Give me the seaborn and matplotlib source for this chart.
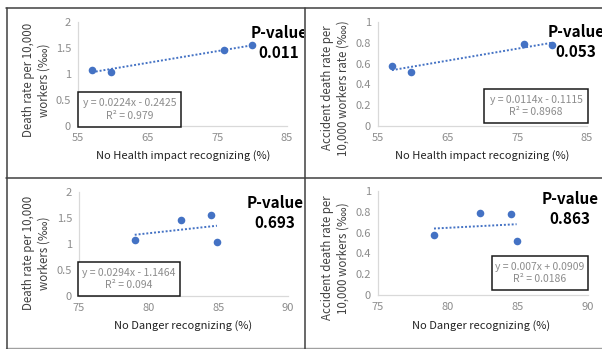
import matplotlib
matplotlib.use("Agg")
import matplotlib.pyplot as plt
import seaborn as sns
import numpy as np
import pandas as pd
from matplotlib.patches import Rectangle
from matplotlib.transforms import Bbox, TransformedBbox

sns.set_theme(style="white")
plt.rcParams['font.family'] = ['Noto Sans CJK KR', 'DejaVu Sans']

# ---- data ----
health_pct = [57.0, 59.7, 75.9, 80.0]
danger_pct = [79.0, 84.9, 82.3, 84.5]
death_rate = [1.077, 1.046, 1.47, 1.55]
accident_rate = [0.577, 0.516, 0.788, 0.779]

health_ticks = [55, 65, 75, 85]
danger_ticks = [75, 80, 85, 90]
death_ticks = [0, 0.5, 1, 1.5, 2]
death_ticklabels = ["0", "0.5", "1", "1.5", "2"]
acc_ticks = [0, 0.2, 0.4, 0.6, 0.8, 1]
acc_ticklabels = ["0", "0.2", "0.4", "0.6", "0.8", "1"]

equations = ["y = 0.0224x - 0.2425\nR² = 0.979",
             "y = 0.0114x - 0.1115\nR² = 0.8968",
             "y = 0.0294x - 1.1464\nR² = 0.094",
             "y = 0.007x + 0.0909\nR² = 0.0186"]
pvalues = ["0.011", "0.053", "0.693", "0.863"]
xlabels = ["No Health impact recognizing (%)", "No Health impact recognizing (%)",
           "No Danger recognizing (%)", "No Danger recognizing (%)"]
ylabels = ["Death rate per 10,000\nworkers (‱)",
           "Accident death rate per\n10,000 workers rate (‱)",
           "Death rate per 10,000\nworkers (‱)",
           "Accident death rate per\n10,000 workers (‱)"]

W, H = 602, 349
fig = plt.figure(figsize=(W / 100, H / 100), dpi=100)

def fx(x): return x / W
def fy(y): return 1 - y / H

BLUE = "#4472C4"
GRAY_TXT = "#8c8c8c"
DARK = "#404040"

# axes pixel rects: left, right, top, bottom
rects = [(78, 287, 22, 126), (378, 587, 22, 126),
         (79, 288, 192, 296), (378, 588, 191, 295)]
xs = [health_pct, health_pct, danger_pct, danger_pct]
ys = [death_rate, accident_rate, death_rate, accident_rate]
xt = [health_ticks, health_ticks, danger_ticks, danger_ticks]
yt = [(death_ticks, death_ticklabels), (acc_ticks, acc_ticklabels),
      (death_ticks, death_ticklabels), (acc_ticks, acc_ticklabels)]
eq_boxes = [(78, 181, 92, 127), (484, 588, 89, 123), (78, 180, 262, 296), (492, 588, 256, 290)]
ylab_pos = [(36, 80), (335, 88), (36, 253), (335, 258)]
xlab_pos = [(183, 156), (482, 156), (183, 326), (481, 326)]
pv_pos = [(279, 43), (576, 42), (275, 213), (570, 209)]
panel_clip = [(6, 304, 8, 178), (304, 602, 8, 178), (6, 304, 178, 349), (304, 602, 178, 349)]

for i in range(4):
    l, r, t, b = rects[i]
    ax = fig.add_axes([fx(l), fy(b), fx(r) - fx(l), fy(t) - fy(b)])
    df = pd.DataFrame({"x": xs[i], "y": ys[i]})
    sns.regplot(data=df, x="x", y="y", ax=ax, ci=None, scatter=False, truncate=True,
                line_kws=dict(color=BLUE, ls=(0, (1, 1)), lw=1.4))
    sns.scatterplot(data=df, x="x", y="y", ax=ax, color=BLUE, s=30, edgecolor=BLUE,
                    linewidth=0, zorder=3, clip_on=False)
    ax.set_xlim(xt[i][0], xt[i][-1])
    ax.set_ylim(yt[i][0][0], yt[i][0][-1])
    ax.set_xticks(xt[i])
    ax.set_xticklabels([str(v) for v in xt[i]])
    ax.set_yticks(yt[i][0])
    ax.set_yticklabels(yt[i][1])
    ax.tick_params(axis='both', length=0, labelsize=8, labelcolor=GRAY_TXT, pad=5)
    ax.set_xlabel("")
    ax.set_ylabel("")
    for s in ["top", "right"]:
        ax.spines[s].set_visible(False)
    for s in ["left", "bottom"]:
        ax.spines[s].set_color("#d9d9d9")
        ax.spines[s].set_linewidth(0.9)
    ax.set_facecolor("none")

    # equation box
    bl, br, bt, bb = eq_boxes[i]
    fig.patches.append(Rectangle((fx(bl), fy(bb)), fx(br) - fx(bl), fy(bt) - fy(bb),
                                 transform=fig.transFigure, fill=True, facecolor="white",
                                 edgecolor="#1a1a1a", lw=1.1, zorder=5))
    fig.text(fx((bl + br) / 2), fy((bt + bb) / 2), equations[i], ha="center", va="center",
             fontsize=7.5, color=GRAY_TXT, linespacing=1.35, zorder=6)

    # labels
    fig.text(fx(ylab_pos[i][0]), fy(ylab_pos[i][1]), ylabels[i], rotation=90,
             ha="center", va="center", fontsize=8.3, color=DARK, linespacing=1.25,
             multialignment="center")
    fig.text(fx(xlab_pos[i][0]), fy(xlab_pos[i][1]), xlabels[i], ha="center", va="center",
             fontsize=8.0, color="#222222")

    # P-value text clipped to panel
    cl, cr, ct, cb = panel_clip[i]
    clipbox = TransformedBbox(Bbox([[fx(cl), fy(cb)], [fx(cr), fy(ct)]]), fig.transFigure)
    tx = fig.text(fx(pv_pos[i][0]), fy(pv_pos[i][1]), "P-value\n" + pvalues[i],
                  ha="center", va="center", fontsize=11, fontweight="bold",
                  color="black", linespacing=1.3)
    tx.set_clip_on(True)
    tx.set_clip_box(clipbox)

# panel frame lines
LC = "#404040"
def hline(y, x0, x1, c=LC, lw=1.1):
    fig.add_artist(plt.Line2D([fx(x0), fx(x1)], [fy(y), fy(y)], transform=fig.transFigure,
                              color=c, lw=lw, zorder=10))
def vline(x, y0, y1, c=LC, lw=1.1):
    fig.add_artist(plt.Line2D([fx(x), fx(x)], [fy(y0), fy(y1)], transform=fig.transFigure,
                              color=c, lw=lw, zorder=10))

hline(8, 6, 602)
hline(178, 6, 602)
hline(348, 6, 602, c="#a0a0a0", lw=1.0)
vline(6.5, 8, 349)
vline(304.5, 8, 349)

fig.savefig("out.png", dpi=100)
